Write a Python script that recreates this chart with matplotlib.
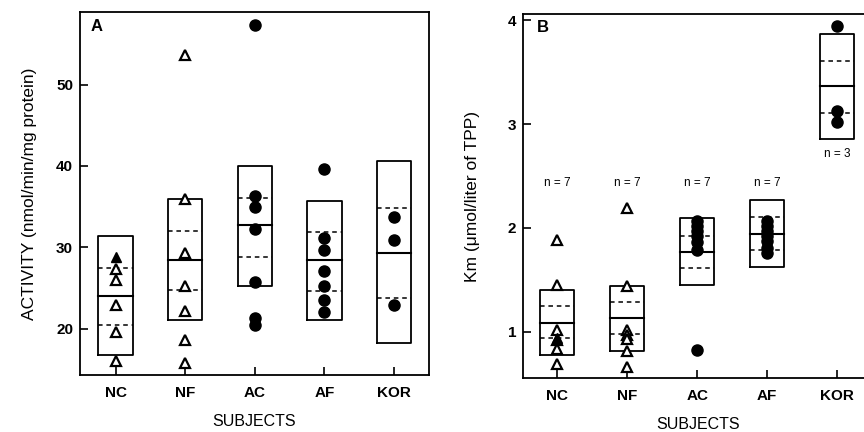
import matplotlib.pyplot as plt

plt.rcParams['font.family'] = ['Liberation Sans', 'DejaVu Sans']

subjects = ['NC', 'NF', 'AC', 'AF', 'KOR']

# Panel A - activity (nmol/min/mg protein)
act_box_top = [31.35, 35.9, 40.0, 35.7, 40.6]
act_box_bottom = [16.8, 21.1, 25.2, 21.0, 18.2]
act_median = [24.06, 28.4, 32.7, 28.4, 29.35]
act_q_upper = [27.45, 32.0, 36.1, 31.9, 34.8]
act_q_lower = [20.4, 24.8, 28.8, 24.6, 23.8]
act_points = [
    [27.3, 26.0, 22.95, 19.6, 16.0],
    [53.6, 35.9, 29.3, 25.2, 22.2, 18.6, 15.8],
    [57.3, 36.3, 35.0, 32.2, 25.7, 21.3, 20.4],
    [39.6, 31.1, 29.6, 27.1, 25.2, 23.5, 22.0],
    [33.7, 30.9, 22.95],
]
act_filled_nc = [28.8]

# Panel B - Km (umol/liter of TPP)
km_box_top = [1.40, 1.44, 2.09, 2.27, 3.87]
km_box_bottom = [0.776, 0.817, 1.45, 1.626, 2.855]
km_median = [1.087, 1.13, 1.764, 1.94, 3.37]
km_q_upper = [1.247, 1.283, 1.924, 2.10, 3.61]
km_q_lower = [0.942, 0.978, 1.616, 1.79, 3.11]
km_points = [
    [1.88, 1.45, 1.02, 0.92, 0.83, 0.686],
    [2.19, 1.44, 1.016, 0.968, 0.927, 0.81, 0.66],
    [2.07, 2.02, 1.97, 1.92, 1.86, 1.79, 0.824],
    [2.07, 2.02, 1.97, 1.92, 1.87, 1.81, 1.76],
    [3.94, 3.13, 3.02],
]
km_filled_nc = [0.94]
n_labels = ['n = 7', 'n = 7', 'n = 7', 'n = 7', 'n = 3']
n_label_y = [2.43, 2.43, 2.43, 2.43, 2.71]

half = 0.245
open_groups = [0, 1]  # normal subjects plotted as open triangles


def draw_panel(ax, top, bottom, med, qu, ql, points, filled_nc):
    for i in range(len(subjects)):
        x0, x1 = i - half, i + half
        ax.plot([x0, x1, x1, x0, x0], [bottom[i], bottom[i], top[i], top[i], bottom[i]],
                color='black', lw=1.3)
        ax.plot([x0, x1], [med[i], med[i]], color='black', lw=1.5)
        for q in (qu[i], ql[i]):
            ax.plot([x0, x1], [q, q], color='black', lw=1.1, dashes=(3, 2.5))
        xs = [i] * len(points[i])
        if i in open_groups:
            ax.plot(xs, points[i], ls='none', marker='^', ms=7.5, mfc='white',
                    mec='black', mew=1.6, zorder=3)
        else:
            ax.plot(xs, points[i], ls='none', marker='o', ms=8, color='black', zorder=3)
    ax.plot([0] * len(filled_nc), filled_nc, ls='none', marker='^', ms=7.5,
            color='black', zorder=4)
    ax.set_xticks(range(len(subjects)))
    ax.set_xticklabels(subjects)
    ax.tick_params(direction='in', length=6, width=1.2, labelsize=11)
    ax.tick_params(axis='x', pad=8)
    ax.tick_params(axis='y', pad=5)
    for lab in ax.get_xticklabels() + ax.get_yticklabels():
        lab.set_fontweight('bold')
    for s in ax.spines.values():
        s.set_linewidth(1.3)
    ax.set_xlabel('SUBJECTS', fontsize=11.5, labelpad=10)


fig = plt.figure(figsize=(8.64, 4.32), dpi=100)

axA = fig.add_axes([0.0926, 0.132, 0.4039, 0.840])
draw_panel(axA, act_box_top, act_box_bottom, act_median, act_q_upper, act_q_lower,
           act_points, act_filled_nc)
axA.set_xlim(-0.51, 4.5)
axA.set_ylim(14.3, 58.9)
axA.set_yticks([20, 30, 40, 50])
axA.set_ylabel('ACTIVITY (nmol/min/mg protein)', fontsize=12.5, labelpad=14)
axA.text(0.029, 0.959, 'A', transform=axA.transAxes, fontsize=12, fontweight='bold',
         va='center', ha='left')

axB = fig.add_axes([0.6057, 0.1243, 0.4036, 0.8433])
draw_panel(axB, km_box_top, km_box_bottom, km_median, km_q_upper, km_q_lower,
           km_points, km_filled_nc)
axB.set_xlim(-0.486, 4.5)
axB.set_ylim(0.55, 4.06)
axB.set_yticks([1, 2, 3, 4])
axB.set_ylabel('Km (\u03bcmol/liter of TPP)', fontsize=12.5, labelpad=20)
axB.text(0.04, 0.964, 'B', transform=axB.transAxes, fontsize=12, fontweight='bold',
         va='center', ha='left')
for i, lab in enumerate(n_labels):
    axB.text(i, n_label_y[i], lab, ha='center', va='center', fontsize=8.5)

fig.savefig('out.png', dpi=100)
